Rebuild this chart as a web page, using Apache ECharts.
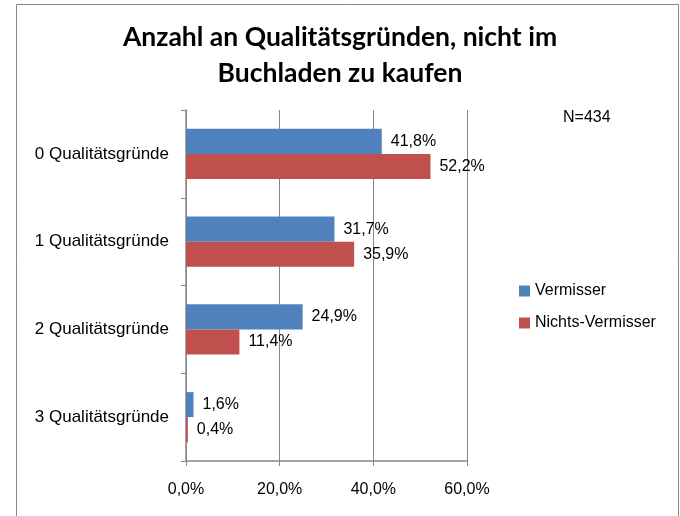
<!DOCTYPE html>
<html>
<head>
<meta charset="utf-8">
<script src="https://cdn.jsdelivr.net/npm/echarts@6/dist/echarts.min.js"></script>
<style>
  html, body { margin: 0; padding: 0; background: #fff; }
  #chart { width: 680px; height: 516px; }
</style>
</head>
<body>
<div id="chart"></div>
<script>
const categories = ['0 Qualitätsgründe', '1 Qualitätsgründe', '2 Qualitätsgründe', '3 Qualitätsgründe'];
const vermisser = [41.8, 31.7, 24.9, 1.6];
const nichtsVermisser = [52.2, 35.9, 11.4, 0.4];
const xTicks = [0, 20, 40, 60];

const fmt = v => v.toFixed(1).replace('.', ',') + '%';
const font = '"Liberation Sans", Arial, sans-serif';

const chart = echarts.init(document.getElementById('chart'));

chart.setOption({
    animation: false,
    textStyle: { fontFamily: font },
    title: {
        text: 'Anzahl an Qualitätsgründen, nicht im\nBuchladen zu kaufen',
        left: 'center',
        top: 14,
        textStyle: {
            fontFamily: 'Lato',
            fontSize: 26.5,
            fontWeight: 'bold',
            color: '#000',
            lineHeight: 36
        }
    },
    graphic: [
        {
            type: 'rect',
            shape: { x: 16.5, y: 4.5, width: 662, height: 520 },
            style: { fill: 'none', stroke: '#888', lineWidth: 1 },
            silent: true
        },
        {
            type: 'text',
            left: 563,
            top: 110,
            style: { text: 'N=434', fontFamily: font, fontSize: 16, fill: '#000' }
        }
    ],
    legend: {
        orient: 'vertical',
        left: 514,
        top: 278,
        itemWidth: 11,
        itemHeight: 11,
        itemGap: 16,
        icon: 'rect',
        textStyle: { fontFamily: font, fontSize: 16, color: '#000' },
        data: ['Vermisser', 'Nichts-Vermisser']
    },
    grid: {
        left: 186,
        right: 213,
        top: 110,
        bottom: 55,
        containLabel: false
    },
    xAxis: {
        type: 'value',
        min: xTicks[0],
        max: xTicks[xTicks.length - 1],
        interval: 20,
        axisLine: { show: true, lineStyle: { color: '#888', width: 1.5 } },
        axisTick: { show: true, length: 5, lineStyle: { color: '#888' } },
        splitLine: { show: true, lineStyle: { color: '#888', width: 1 } },
        axisLabel: {
            color: '#000',
            fontSize: 16,
            margin: 21,
            formatter: v => fmt(v)
        }
    },
    yAxis: {
        type: 'category',
        inverse: true,
        data: categories,
        axisLine: { show: true, lineStyle: { color: '#888', width: 1.5 } },
        axisTick: { show: true, length: 5, lineStyle: { color: '#888' } },
        axisLabel: { color: '#000', fontSize: 17, margin: 17 }
    },
    series: [
        {
            name: 'Vermisser',
            type: 'bar',
            data: vermisser,
            barGap: '0%',
            barCategoryGap: '43%',
            itemStyle: { color: '#4F81BD' },
            label: {
                show: true,
                position: 'right',
                distance: 9,
                color: '#000',
                fontSize: 16,
                formatter: p => fmt(p.value)
            }
        },
        {
            name: 'Nichts-Vermisser',
            type: 'bar',
            data: nichtsVermisser,
            barGap: '0%',
            barCategoryGap: '43%',
            itemStyle: { color: '#C0504D' },
            label: {
                show: true,
                position: 'right',
                distance: 9,
                color: '#000',
                fontSize: 16,
                formatter: p => fmt(p.value)
            }
        }
    ]
});
</script>
</body>
</html>
